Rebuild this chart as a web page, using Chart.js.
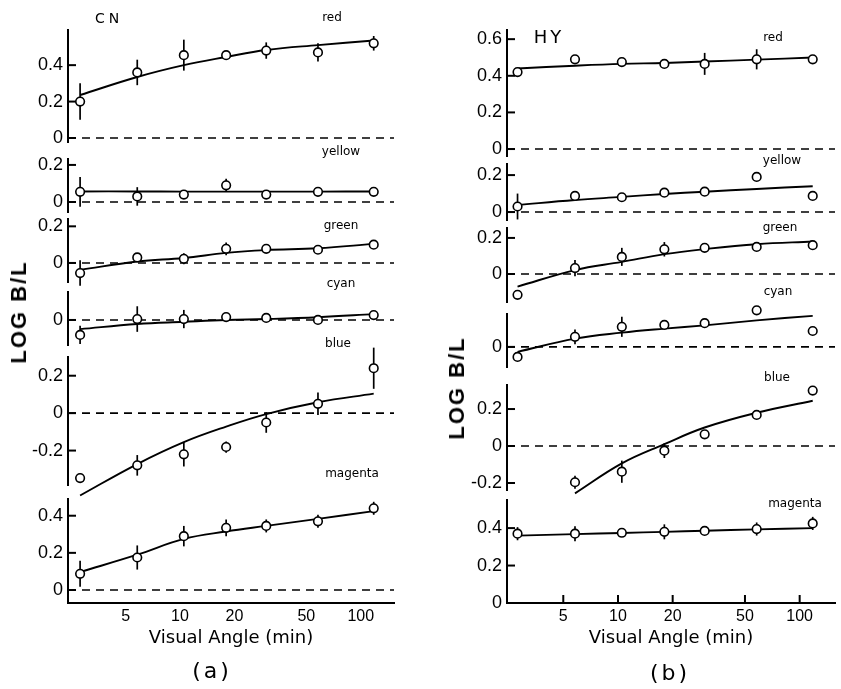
<!DOCTYPE html>
<html>
<head>
<meta charset="utf-8">
<script src="https://cdn.jsdelivr.net/npm/chart.js@4.4.1/dist/chart.umd.min.js"></script>
<style>
  html, body { margin: 0; padding: 0; background: #fff; }
  #page { position: relative; width: 841px; height: 689px; overflow: hidden; background: #fff; }
  #page canvas { position: absolute; }
  .txt { position: absolute; transform: translate(-50%, -50%); white-space: nowrap; line-height: 1;
         color: #000; font-family: "DejaVu Sans", sans-serif; z-index: 5; }
</style>
</head>
<body>
<div id="page"></div>
<script>
// visual angle (min) of the seven test fields
const angles = [2.8, 5.8, 10.5, 18, 30, 58, 118];
const xTicks = [5, 10, 20, 50, 100];

// (a) observer CN
const cnRed = [0.20, 0.36, 0.455, 0.455, 0.48, 0.47, 0.52];
const cnRedErr = [0.10, 0.07, 0.085, 0, 0.045, 0.05, 0.04];
const cnRedFit = [0.236, 0.335, 0.40, 0.445, 0.483, 0.51, 0.535];

const cnYellow = [0.055, 0.03, 0.04, 0.09, 0.04, 0.055, 0.055];
const cnYellowErr = [0.08, 0.05, 0, 0.035, 0, 0, 0];
const cnYellowFit = [0.057, 0.057, 0.056, 0.056, 0.056, 0.056, 0.057];

const cnGreen = [-0.055, 0.03, 0.023, 0.077, 0.077, 0.072, 0.10];
const cnGreenErr = [0.07, 0, 0.03, 0.035, 0, 0, 0];
const cnGreenFit = [-0.038, 0.008, 0.027, 0.055, 0.07, 0.08, 0.104];

const cnCyan = [-0.082, 0.005, 0.005, 0.016, 0.011, 0, 0.027];
const cnCyanErr = [0.05, 0.07, 0.05, 0, 0, 0, 0];
const cnCyanFit = [-0.05, -0.022, -0.01, 0, 0.005, 0.015, 0.032];

const cnBlue = [-0.347, -0.279, -0.22, -0.181, -0.05, 0.05, 0.24];
const cnBlueErr = [0.025, 0.055, 0.065, 0.03, 0.055, 0.06, 0.11];
const cnBlueFit = [-0.44, -0.272, -0.155, -0.072, -0.005, 0.058, 0.104];

const cnMagenta = [0.087, 0.175, 0.29, 0.335, 0.345, 0.37, 0.44];
const cnMagentaErr = [0.07, 0.065, 0.055, 0.045, 0.035, 0.035, 0.035];
const cnMagentaFit = [0.097, 0.19, 0.275, 0.315, 0.345, 0.383, 0.425];

// (b) observer HY
const hyRed = [0.42, 0.49, 0.475, 0.465, 0.465, 0.49, 0.49];
const hyRedErr = [0, 0, 0, 0, 0.06, 0.055, 0];
const hyRedFit = [0.44, 0.455, 0.465, 0.47, 0.478, 0.488, 0.50];

const hyYellow = [0.03, 0.087, 0.08, 0.105, 0.11, 0.19, 0.087];
const hyYellowErr = [0.07, 0, 0, 0, 0, 0, 0];
const hyYellowFit = [0.038, 0.065, 0.082, 0.098, 0.11, 0.125, 0.14];

const hyGreen = [-0.115, 0.033, 0.095, 0.137, 0.145, 0.15, 0.16];
const hyGreenErr = [0, 0.045, 0.05, 0.04, 0, 0, 0];
const hyGreenFit = [-0.07, 0.022, 0.067, 0.11, 0.138, 0.165, 0.18];

const hyCyan = [-0.055, 0.055, 0.11, 0.12, 0.13, 0.2, 0.087];
const hyCyanErr = [0, 0.04, 0.055, 0, 0, 0, 0];
const hyCyanFit = [-0.027, 0.045, 0.078, 0.1, 0.118, 0.145, 0.17];

const hyBlue = [null, -0.196, -0.139, -0.025, 0.063, 0.168, 0.30];
const hyBlueErr = [0, 0.035, 0.06, 0.04, 0, 0, 0];
const hyBlueFit = [null, -0.256, -0.094, 0.01, 0.10, 0.18, 0.245];

const hyMagenta = [0.37, 0.37, 0.375, 0.38, 0.385, 0.395, 0.425];
const hyMagentaErr = [0.035, 0.04, 0, 0.04, 0, 0.035, 0.035];
const hyMagentaFit = [0.36, 0.368, 0.374, 0.38, 0.386, 0.393, 0.40];

// y tick values of each strip
const ticks3 = [0, 0.2, 0.4];
const ticks4 = [0, 0.2, 0.4, 0.6];
const ticks2 = [0, 0.2];
const ticks1 = [0];
const ticksPm = [-0.2, 0, 0.2];

const PAD = 12, YW = 60, PAGE_H = 689, XAXIS_Y = 603;

const panels = [
  { axisX: 68, right: 400, xMin: 2.4, xMax: 153, xTickMarks: false, plots: [
    { top: 30, bottom: 142, min: -0.022, max: 0.593, ticks: ticks3, y: cnRed, err: cnRedErr, fit: cnRedFit },
    { top: 159, bottom: 212, min: -0.054, max: 0.232, ticks: ticks2, y: cnYellow, err: cnYellowErr, fit: cnYellowFit },
    { top: 219, bottom: 282, min: -0.104, max: 0.24, ticks: ticks2, y: cnGreen, err: cnGreenErr, fit: cnGreenFit },
    { top: 292, bottom: 345, min: -0.137, max: 0.153, ticks: ticks1, y: cnCyan, err: cnCyanErr, fit: cnCyanFit },
    { top: 357, bottom: 485, min: -0.384, max: 0.30, ticks: ticksPm, y: cnBlue, err: cnBlueErr, fit: cnBlueFit },
    { top: 499, bottom: 603, min: -0.07, max: 0.49, ticks: ticks3, y: cnMagenta, err: cnMagentaErr, fit: cnMagentaFit }
  ]},
  { axisX: 507, right: 841, xMin: 2.45, xMax: 156.7, xTickMarks: true, plots: [
    { top: 30, bottom: 156, min: -0.038, max: 0.65, ticks: ticks4, y: hyRed, err: hyRedErr, fit: hyRedFit },
    { top: 164, bottom: 220, min: -0.043, max: 0.26, ticks: ticks2, y: hyYellow, err: hyYellowErr, fit: hyYellowFit },
    { top: 228, bottom: 302, min: -0.155, max: 0.255, ticks: ticks2, y: hyGreen, err: hyGreenErr, fit: hyGreenFit },
    { top: 314, bottom: 367, min: -0.11, max: 0.18, ticks: ticks1, y: hyCyan, err: hyCyanErr, fit: hyCyanFit },
    { top: 385, bottom: 490, min: -0.238, max: 0.33, ticks: ticksPm, y: hyBlue, err: hyBlueErr, fit: hyBlueFit },
    { top: 500, bottom: 603, min: 0, max: 0.55, ticks: ticks3, y: hyMagenta, err: hyMagentaErr, fit: hyMagentaFit, noZero: true }
  ]}
];

const texts = [
  { t: 'CN', x: 109, y: 18, size: 14, ls: 4 },
  { t: 'red', x: 332, y: 17, size: 12 },
  { t: 'yellow', x: 341, y: 151, size: 12 },
  { t: 'green', x: 341, y: 225, size: 12 },
  { t: 'cyan', x: 341, y: 283, size: 12 },
  { t: 'blue', x: 338, y: 343, size: 12 },
  { t: 'magenta', x: 352, y: 473, size: 12 },
  { t: 'LOG B/L', x: 19, y: 312, size: 22, bold: true, rot: true, ls: 2, fam: 'Liberation Sans' },
  { t: '(a)', x: 212, y: 671, size: 22, ls: 3 },
  { t: 'HY', x: 549, y: 37, size: 18, ls: 3 },
  { t: 'red', x: 773, y: 37, size: 12 },
  { t: 'yellow', x: 782, y: 160, size: 12 },
  { t: 'green', x: 780, y: 227, size: 12 },
  { t: 'cyan', x: 778, y: 291, size: 12 },
  { t: 'blue', x: 777, y: 377, size: 12 },
  { t: 'magenta', x: 795, y: 503, size: 12 },
  { t: 'LOG B/L', x: 457, y: 388, size: 22, bold: true, rot: true, ls: 2, fam: 'Liberation Sans' },
  { t: '(b)', x: 670, y: 673, size: 22, ls: 3 }
];

// error bars under the circles, inward tick marks on top
const marks = {
  id: 'marks',
  beforeDatasetsDraw(chart) {
    const ctx = chart.ctx, xs = chart.scales.x, ys = chart.scales.y;
    ctx.save();
    ctx.strokeStyle = '#000';
    ctx.lineWidth = 1.7;
    chart.data.datasets.forEach(ds => {
      if (!ds.errors) return;
      ds.data.forEach((p, i) => {
        const e = ds.errors[i];
        if (!e) return;
        const px = xs.getPixelForValue(p.x);
        ctx.beginPath();
        ctx.moveTo(px, ys.getPixelForValue(p.y - e));
        ctx.lineTo(px, ys.getPixelForValue(p.y + e));
        ctx.stroke();
      });
    });
    ctx.restore();
  },
  afterDraw(chart, args, opts) {
    const ctx = chart.ctx, xs = chart.scales.x, ys = chart.scales.y;
    ctx.save();
    ctx.strokeStyle = '#000';
    ctx.lineWidth = 2;
    ys.ticks.forEach(t => {
      const py = ys.getPixelForValue(t.value);
      ctx.beginPath();
      ctx.moveTo(ys.right, py);
      ctx.lineTo(ys.right + 8, py);
      ctx.stroke();
    });
    if (opts.xTickMarks && xs.options.display) {
      xs.ticks.forEach(t => {
        const px = xs.getPixelForValue(t.value);
        ctx.beginPath();
        ctx.moveTo(px, xs.top);
        ctx.lineTo(px, xs.top - 8);
        ctx.stroke();
      });
    }
    ctx.restore();
  }
};

const hiddenGrid = { display: true, drawOnChartArea: false, drawTicks: false, color: 'rgba(0,0,0,0)' };

function config(panel, p, last) {
  const pts = [], errs = [], fit = [];
  angles.forEach((a, k) => {
    if (p.y[k] != null) { pts.push({ x: a, y: p.y[k] }); errs.push(p.err[k]); }
    if (p.fit[k] != null) fit.push({ x: a, y: p.fit[k] });
  });
  const datasets = [
    { data: pts, errors: errs, showLine: false, pointRadius: 4.3, pointBackgroundColor: '#fff',
      pointBorderColor: '#000', pointBorderWidth: 1.6, clip: false, order: 0 },
    { data: fit, borderColor: '#000', borderWidth: 1.9, pointRadius: 0, tension: 0.4, clip: false, order: 1 }
  ];
  if (!p.noZero) {
    datasets.push({ data: [{ x: panel.xMin, y: 0 }, { x: panel.xMax, y: 0 }], borderColor: '#000',
      borderWidth: 1.6, borderDash: [8, 6], pointRadius: 0, order: 2 });
  }
  return {
    type: 'line',
    data: { datasets },
    options: {
      responsive: false,
      animation: false,
      layout: { padding: { top: PAD, bottom: last ? 0 : PAD, left: 0, right: 0 } },
      plugins: { legend: { display: false }, tooltip: { enabled: false }, marks: { xTickMarks: panel.xTickMarks } },
      scales: {
        x: {
          type: 'logarithmic', min: panel.xMin, max: panel.xMax, display: last,
          afterBuildTicks: s => { s.ticks = xTicks.map(v => ({ value: v })); },
          afterFit: s => {
            s.paddingLeft = 0;
            s.paddingRight = 0;
            if (last) s.height = PAGE_H - XAXIS_Y;
          },
          grid: hiddenGrid,
          border: { display: true, color: '#000', width: 2 },
          ticks: { padding: 4, autoSkip: false, maxRotation: 0, color: '#000',
                   font: { family: 'Liberation Sans', size: 16 }, callback: v => String(v) },
          title: { display: true, text: 'Visual Angle (min)', color: '#000',
                   font: { family: 'DejaVu Sans', size: 18 }, padding: { top: 0, bottom: 40 } }
        },
        y: {
          min: p.min, max: p.max,
          afterBuildTicks: s => { s.ticks = p.ticks.map(v => ({ value: v })); },
          afterFit: s => { s.width = YW; s.paddingTop = 0; s.paddingBottom = 0; },
          grid: hiddenGrid,
          border: { display: true, color: '#000', width: 2 },
          ticks: { padding: 5, color: '#000', font: { family: 'Liberation Sans', size: 18 },
                   callback: v => v === 0 ? '0' : v.toFixed(1) }
        }
      }
    },
    plugins: [marks]
  };
}

const page = document.getElementById('page');

panels.forEach(panel => {
  panel.plots.forEach((p, i) => {
    const last = i === panel.plots.length - 1;
    const left = panel.axisX - YW;
    const top = p.top - PAD;
    const w = panel.right - left;
    const h = last ? PAGE_H - top : (p.bottom - p.top) + 2 * PAD;
    const cv = document.createElement('canvas');
    cv.width = w;
    cv.height = h;
    cv.style.left = left + 'px';
    cv.style.top = top + 'px';
    cv.style.width = w + 'px';
    cv.style.height = h + 'px';
    page.appendChild(cv);
    new Chart(cv, config(panel, p, last));
  });
});

texts.forEach(o => {
  const d = document.createElement('div');
  d.className = 'txt';
  d.textContent = o.t;
  d.style.left = o.x + 'px';
  d.style.top = o.y + 'px';
  d.style.fontSize = o.size + 'px';
  if (o.fam) d.style.fontFamily = '"' + o.fam + '", sans-serif';
  if (o.bold) d.style.fontWeight = 'bold';
  if (o.ls) d.style.letterSpacing = o.ls + 'px';
  if (o.rot) d.style.transform = 'translate(-50%, -50%) rotate(-90deg)';
  page.appendChild(d);
});
</script>
</body>
</html>
